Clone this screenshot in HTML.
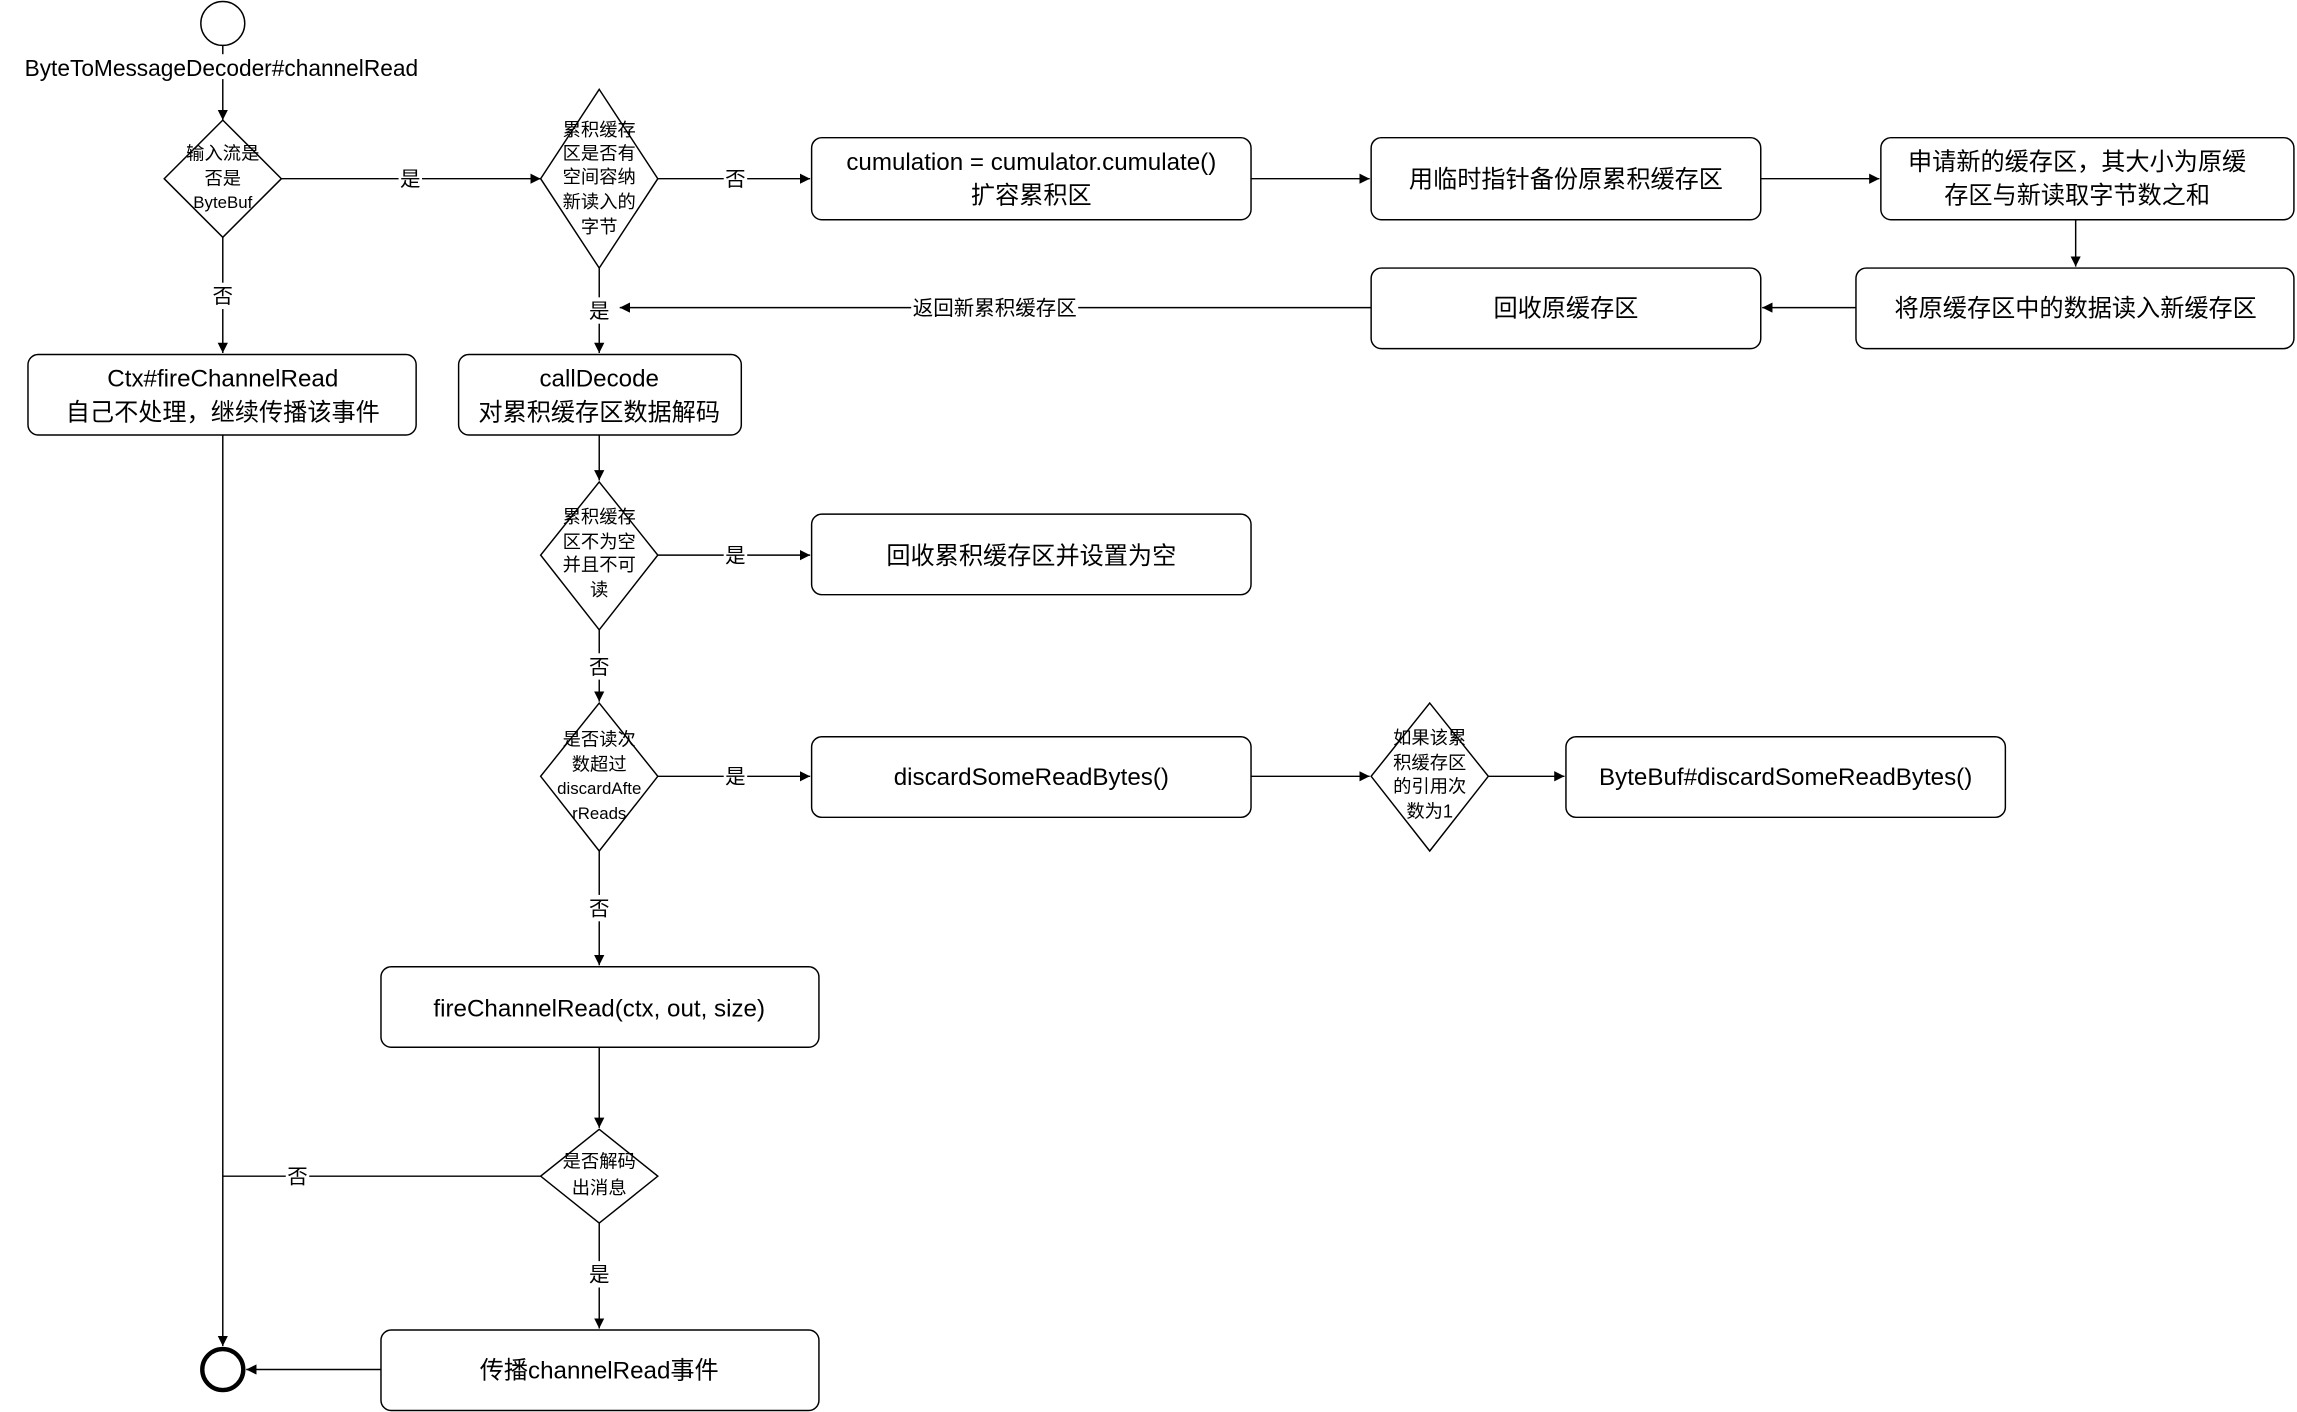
<!DOCTYPE html>
<html><head><meta charset="utf-8">
<style>
html,body{margin:0;padding:0;background:#fff;}
svg{display:block;}
text{font-family:"Liberation Sans","Noto Sans CJK SC",sans-serif;fill:#000;}
.b{font-size:16.5px;}
.d{font-size:12.5px;}
.l{font-size:14px;}
</style></head><body>
<svg width="2297" height="1412" viewBox="0 0 1568 964" xmlns="http://www.w3.org/2000/svg">
<defs>
<marker id="a" markerWidth="8" markerHeight="8" refX="7" refY="3.5" orient="auto" markerUnits="userSpaceOnUse">
<path d="M0,0 L7,3.5 L0,7 z" fill="#000"/></marker>
</defs>
<g stroke="#000" stroke-width="1" fill="none">
<circle cx="152" cy="16" r="15" fill="#fff"/>
<line x1="152" y1="31" x2="152" y2="82" marker-end="url(#a)"/>
<polygon points="152,82 192,122 152,162 112,122" fill="#fff"/>
<polygon points="409,61 449,122 409,183 369,122" fill="#fff"/>
<polygon points="409,329 449,379 409,430 369,379" fill="#fff"/>
<polygon points="409,480 449,530 409,581 369,530" fill="#fff"/>
<polygon points="976,480 1016,530 976,581 936,530" fill="#fff"/>
<polygon points="409,771 449,803 409,835 369,803" fill="#fff"/>
<rect x="554" y="94" width="300" height="56" rx="7" fill="#fff"/>
<rect x="936" y="94" width="266" height="56" rx="7" fill="#fff"/>
<rect x="1284" y="94" width="282" height="56" rx="7" fill="#fff"/>
<rect x="1267" y="183" width="299" height="55" rx="7" fill="#fff"/>
<rect x="936" y="183" width="266" height="55" rx="7" fill="#fff"/>
<rect x="19" y="242" width="265" height="55" rx="7" fill="#fff"/>
<rect x="313" y="242" width="193" height="55" rx="7" fill="#fff"/>
<rect x="554" y="351" width="300" height="55" rx="7" fill="#fff"/>
<rect x="554" y="503" width="300" height="55" rx="7" fill="#fff"/>
<rect x="1069" y="503" width="300" height="55" rx="7" fill="#fff"/>
<rect x="260" y="660" width="299" height="55" rx="7" fill="#fff"/>
<rect x="260" y="908" width="299" height="55" rx="7" fill="#fff"/>
<line x1="192" y1="122" x2="369" y2="122" marker-end="url(#a)"/>
<line x1="449" y1="122" x2="553" y2="122" marker-end="url(#a)"/>
<line x1="854" y1="122" x2="935" y2="122" marker-end="url(#a)"/>
<line x1="1202" y1="122" x2="1283" y2="122" marker-end="url(#a)"/>
<line x1="1417" y1="150" x2="1417" y2="182" marker-end="url(#a)"/>
<line x1="1267" y1="210" x2="1203" y2="210" marker-end="url(#a)"/>
<line x1="936" y1="210" x2="423" y2="210" marker-end="url(#a)"/>
<line x1="409" y1="183" x2="409" y2="241" marker-end="url(#a)"/>
<line x1="152" y1="162" x2="152" y2="241" marker-end="url(#a)"/>
<line x1="409" y1="297" x2="409" y2="328" marker-end="url(#a)"/>
<line x1="449" y1="379" x2="553" y2="379" marker-end="url(#a)"/>
<line x1="409" y1="430" x2="409" y2="479" marker-end="url(#a)"/>
<line x1="449" y1="530" x2="553" y2="530" marker-end="url(#a)"/>
<line x1="854" y1="530" x2="935" y2="530" marker-end="url(#a)"/>
<line x1="1016" y1="530" x2="1068" y2="530" marker-end="url(#a)"/>
<line x1="409" y1="581" x2="409" y2="659" marker-end="url(#a)"/>
<line x1="409" y1="715" x2="409" y2="770" marker-end="url(#a)"/>
<line x1="369" y1="803" x2="152" y2="803"/>
<line x1="152" y1="297" x2="152" y2="919" marker-end="url(#a)"/>
<line x1="409" y1="835" x2="409" y2="907" marker-end="url(#a)"/>
<line x1="260" y1="935" x2="168" y2="935" marker-end="url(#a)"/>
</g>
<circle cx="152" cy="935" r="14" fill="#fff" stroke="#000" stroke-width="3"/>
<g fill="#fff">
<rect x="8" y="37" width="288" height="17"/>
<rect x="272" y="113" width="16" height="18"/>
<rect x="494" y="113" width="16" height="18"/>
<rect x="144" y="193" width="16" height="18"/>
<rect x="401" y="203" width="16" height="18"/>
<rect x="622" y="201" width="114" height="18"/>
<rect x="494" y="370" width="16" height="18"/>
<rect x="401" y="446" width="16" height="18"/>
<rect x="494" y="521" width="16" height="18"/>
<rect x="401" y="611" width="16" height="18"/>
<rect x="195" y="794" width="16" height="18"/>
<rect x="401" y="861" width="16" height="18"/>
</g>
<g text-anchor="middle">
<text class="b" x="151" y="52" style="font-size:15.5px">ByteToMessageDecoder#channelRead</text>
<text class="l" x="280" y="127">是</text>
<text class="l" x="502" y="127">否</text>
<text class="l" x="152" y="207">否</text>
<text class="l" x="409" y="217">是</text>
<text class="l" x="679" y="215">返回新累积缓存区</text>
<text class="l" x="502" y="384">是</text>
<text class="l" x="409" y="460">否</text>
<text class="l" x="502" y="535">是</text>
<text class="l" x="409" y="625">否</text>
<text class="l" x="203" y="808">否</text>
<text class="l" x="409" y="875">是</text>

<text class="d" x="152" y="109">输入流是</text>
<text class="d" x="152" y="126">否是</text>
<text class="d" x="152" y="142" style="font-size:11.5px">ByteBuf</text>

<text class="d" x="409" y="93">累积缓存</text>
<text class="d" x="409" y="109">区是否有</text>
<text class="d" x="409" y="125">空间容纳</text>
<text class="d" x="409" y="142">新读入的</text>
<text class="d" x="409" y="159">字节</text>

<text class="d" x="409" y="357">累积缓存</text>
<text class="d" x="409" y="374">区不为空</text>
<text class="d" x="409" y="390">并且不可</text>
<text class="d" x="409" y="407">读</text>

<text class="d" x="409" y="509">是否读次</text>
<text class="d" x="409" y="526">数超过</text>
<text class="d" x="409" y="542" style="font-size:11.5px">discardAfte</text>
<text class="d" x="409" y="559" style="font-size:11.5px">rReads</text>

<text class="d" x="976" y="508">如果该累</text>
<text class="d" x="976" y="525">积缓存区</text>
<text class="d" x="976" y="541">的引用次</text>
<text class="d" x="976" y="558">数为1</text>

<text class="d" x="409" y="797">是否解码</text>
<text class="d" x="409" y="815">出消息</text>

<text class="b" x="704" y="116">cumulation = cumulator.cumulate()</text>
<text class="b" x="704" y="139">扩容累积区</text>
<text class="b" x="1069" y="128">用临时指针备份原累积缓存区</text>
<text class="b" x="1418" y="116">申请新的缓存区，其大小为原缓</text>
<text class="b" x="1418" y="139">存区与新读取字节数之和</text>
<text class="b" x="1417" y="216">将原缓存区中的数据读入新缓存区</text>
<text class="b" x="1069" y="216">回收原缓存区</text>
<text class="b" x="152" y="264">Ctx#fireChannelRead</text>
<text class="b" x="152" y="287">自己不处理，继续传播该事件</text>
<text class="b" x="409" y="264">callDecode</text>
<text class="b" x="409" y="287">对累积缓存区数据解码</text>
<text class="b" x="704" y="385">回收累积缓存区并设置为空</text>
<text class="b" x="704" y="536">discardSomeReadBytes()</text>
<text class="b" x="1219" y="536">ByteBuf#discardSomeReadBytes()</text>
<text class="b" x="409" y="694">fireChannelRead(ctx, out, size)</text>
<text class="b" x="409" y="941">传播channelRead事件</text>
</g>
</svg>
</body></html>
